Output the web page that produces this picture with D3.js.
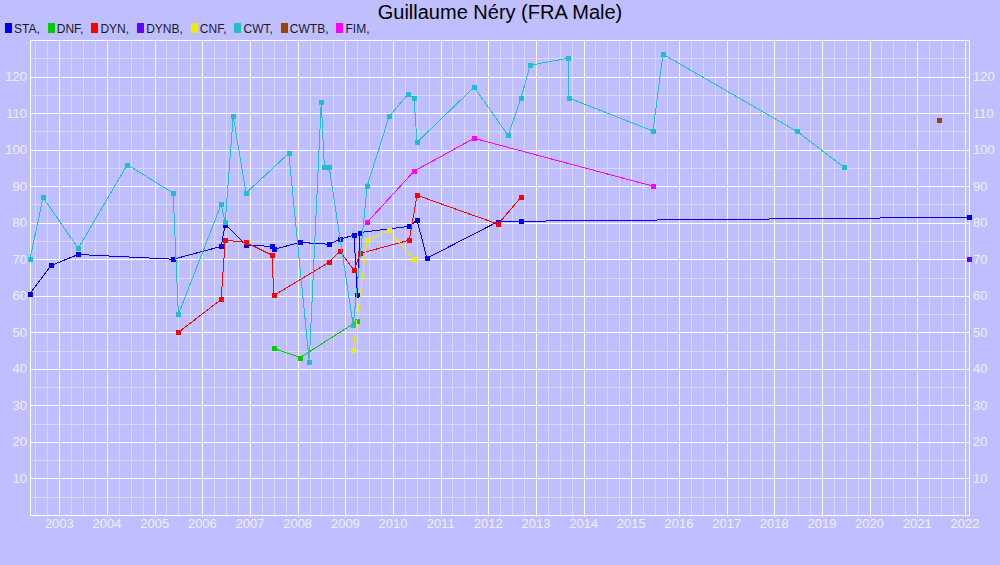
<!DOCTYPE html>
<html><head><meta charset="utf-8">
<script src="https://cdn.jsdelivr.net/npm/d3@7"></script>
<style>
body{margin:0;background:#bfbfff;}
svg{display:block;font-family:"Liberation Sans",Arial,sans-serif;}
</style>
</head><body>
<svg id="chart" width="1000" height="565"></svg>
<script>
// ---- data ----
const title = "Guillaume Néry (FRA Male)";
const seriesNames = ["STA", "DNF", "DYN", "DYNB", "CNF", "CWT", "CWTB", "FIM"];
const seriesColors = ["#0000ee", "#00cc00", "#ff0000", "#6600ff", "#eeee00", "#1fbfcf", "#994400", "#ff00ff"];

const STA = [["2002-05-21",60.6],["2002-10-30",68.3],["2003-05-26",71.3],["2005-05-22",70.0],["2006-05-25",73.5],
  ["2006-06-25",79.5],["2006-12-02",73.9],["2007-06-19",73.5],["2007-07-02",72.7],["2008-01-21",74.6],
  ["2008-08-30",74.1],["2008-11-20",75.5],["2009-03-09",76.6],["2009-04-01",60.1],["2009-04-24",77.3],
  ["2010-05-05",79.0],["2010-07-04",80.7],["2010-09-18",70.3],["2012-03-16",80.3],["2012-09-09",80.4],
  ["2022-02-01",81.5]];
const DNF = [["2007-07-02",45.6],["2008-01-21",43.1],["2009-04-01",53.0]];
const DYN = [["2005-07-01",50.0],["2006-05-25",59.0],["2006-06-25",75.2],["2006-12-02",74.6],["2007-06-19",71.1],
  ["2007-07-02",60.1],["2008-08-30",69.2],["2008-11-20",72.2],["2009-03-09",67.0],["2009-04-24",71.6],
  ["2010-05-05",75.2],["2010-07-04",87.5],["2012-03-16",79.6],["2012-09-09",87.0]];
const DYNB = [["2022-02-01",70.0]];
const CNF = [["2009-03-02",45.1],["2009-06-17",75.2],["2009-12-02",77.9],["2010-06-11",70.0]];
const CWT = [["2002-05-21",70.0],["2002-08-29",86.9],["2003-05-26",73.0],["2004-06-05",95.9],["2005-05-22",88.1],
  ["2005-07-01",54.9],["2006-05-25",85.0],["2006-06-25",80.1],["2006-08-25",109.1],["2006-12-02",88.1],
  ["2007-10-25",99.0],["2008-03-30",42.0],["2008-06-30",113.0],["2008-07-24",95.2],["2008-08-30",95.2],
  ["2009-03-02",51.9],["2009-06-17",90.0],["2009-12-02",109.1],["2010-04-27",115.2],["2010-06-11",114.1],
  ["2010-07-04",102.0],["2011-09-14",117.1],["2012-06-01",103.9],["2012-09-09",114.1],["2012-11-16",123.1],
  ["2013-09-03",125.0],["2013-09-11",114.1],["2015-06-16",105.1],["2015-09-01",126.1],["2018-06-23",105.0],
  ["2019-06-18",95.2]];
const CWTB = [["2021-06-15",108.0]];
const FIM = [["2009-06-17",80.1],["2010-06-11",94.1],["2011-09-14",103.1],["2015-06-16",90.0]];

const yTickValues = [10,20,30,40,50,60,70,80,90,100,110,120];
const yearLabels = [2003,2004,2005,2006,2007,2008,2009,2010,2011,2012,2013,2014,2015,2016,2017,2018,2019,2020,2021,2022];

// ---- chart ----
const allSeries = [STA, DNF, DYN, DYNB, CNF, CWT, CWTB, FIM];
const parse = d3.timeParse("%Y-%m-%d");
const svg = d3.select("#chart");
const L = 30, R = 969, T = 40, B = 515;

const allDates = allSeries.flat().map(d => parse(d[0]));
const x = d3.scaleTime().domain(d3.extent(allDates)).range([L, R]);
const y = d3.scaleLinear().domain([0, 130]).range([B, T]);

svg.append("rect").attr("width", 1000).attr("height", 565).attr("fill", "#bfbfff");

const grid = svg.append("g").attr("shape-rendering", "crispEdges");
// minor grid
const [d0, d1] = x.domain();
const quarters = d3.timeMonth.every(3).range(d0, d1);
grid.selectAll(".vminor").data(quarters.filter(d => d.getMonth() !== 0)).join("line")
  .attr("x1", d => Math.round(x(d)) + 0.5).attr("x2", d => Math.round(x(d)) + 0.5)
  .attr("y1", T).attr("y2", B + 2).attr("stroke", "#d9d9fb").attr("stroke-width", 1);
const yMinor = d3.range(5, 130, 10);
grid.selectAll(".hminor").data(yMinor).join("line")
  .attr("x1", L).attr("x2", R).attr("y1", d => Math.round(y(d)) + 0.5).attr("y2", d => Math.round(y(d)) + 0.5)
  .attr("stroke", "#d9d9fb").attr("stroke-width", 1);
// major grid
const years = yearLabels.map(yr => new Date(yr, 0, 1));
grid.selectAll(".vmajor").data(years).join("line")
  .attr("x1", d => Math.round(x(d)) + 0.5).attr("x2", d => Math.round(x(d)) + 0.5)
  .attr("y1", T).attr("y2", B + 2).attr("stroke", "#ffffff").attr("stroke-width", 1);
grid.selectAll(".hmajor").data(yTickValues.concat([130])).join("line")
  .attr("x1", L).attr("x2", R).attr("y1", d => Math.round(y(d)) + 0.5).attr("y2", d => Math.round(y(d)) + 0.5)
  .attr("stroke", "#ffffff").attr("stroke-width", 1);
// frame
grid.append("rect").attr("x", L + 0.5).attr("y", T + 0.5).attr("width", R - L).attr("height", B - T)
  .attr("fill", "none").attr("stroke", "#ffffff").attr("stroke-width", 1.5);

// axes labels
const labelColor = "#f0f0ff";
svg.append("g").selectAll("text").data(years).join("text")
  .attr("x", d => x(d)).attr("y", 528).attr("text-anchor", "middle")
  .attr("font-size", 13).attr("fill", labelColor).text(d => d.getFullYear());
svg.append("g").selectAll("text").data(yTickValues).join("text")
  .attr("x", 27).attr("y", d => y(d) + 4.5).attr("text-anchor", "end")
  .attr("font-size", 13).attr("fill", labelColor).text(d => d);
svg.append("g").selectAll("text").data(yTickValues).join("text")
  .attr("x", 973).attr("y", d => y(d) + 4.5).attr("text-anchor", "start")
  .attr("font-size", 13).attr("fill", labelColor).text(d => d);

// series
const line = d3.line().x(d => x(parse(d[0]))).y(d => y(d[1]));
allSeries.forEach((s, i) => {
  const g = svg.append("g");
  if (s.length > 1) {
    g.append("path").attr("d", line(s)).attr("fill", "none")
      .attr("stroke", seriesColors[i]).attr("stroke-width", 1).attr("shape-rendering", "crispEdges");
  }
  g.selectAll("rect").data(s).join("rect")
    .attr("x", d => Math.round(x(parse(d[0]))) - 2.5).attr("y", d => Math.round(y(d[1])) - 2.5)
    .attr("width", 5.5).attr("height", 5.5).attr("fill", seriesColors[i]).attr("shape-rendering", "crispEdges");
});

// title
svg.append("text").attr("x", 500).attr("y", 19).attr("text-anchor", "middle")
  .attr("font-size", 20).attr("fill", "#000").text(title);

// legend
const lg = svg.append("g");
let lx = 5;
seriesNames.forEach((n, i) => {
  lg.append("rect").attr("x", lx).attr("y", 23).attr("width", 7).attr("height", 10)
    .attr("fill", seriesColors[i]).attr("shape-rendering", "crispEdges");
  const t = lg.append("text").attr("x", lx + 9).attr("y", 33).attr("font-size", 12)
    .attr("fill", "#1a1a2a").text(n + ",");
  lx += 9 + t.node().getComputedTextLength() + 8;
});
</script>
</body></html>
